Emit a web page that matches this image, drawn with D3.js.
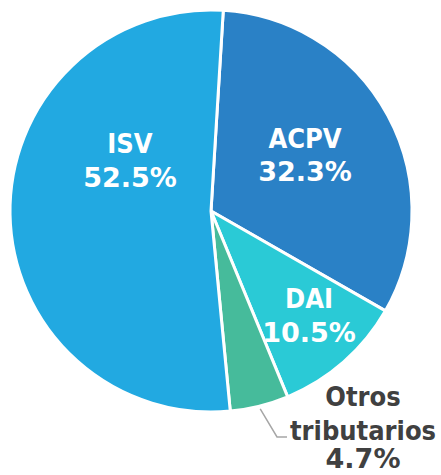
<!DOCTYPE html>
<html>
<head>
<meta charset="utf-8">
<script src="https://cdn.jsdelivr.net/npm/d3@7"></script>
<style>
  html, body { margin: 0; padding: 0; background: #fff; }
</style>
</head>
<body>
<div id="chart"></div>
<script>
// datos (sentido horario desde arriba)
const categories = ["ACPV", "DAI", "Otros tributarios", "ISV"];
const shares = [32.3, 10.5, 4.7, 52.5];
const shareLabels = ["32.3%", "10.5%", "4.7%", "52.5%"];
const nameLines = [["ACPV"], ["DAI"], ["Otros", "tributarios"], ["ISV"]];
const colors = ["#2A81C6", "#2ACAD6", "#46BB9B", "#22A9E1"];

const width = 441, height = 475;
const cx = 211, cy = 211, radius = 201;

// posición de las etiquetas relativa al centro (líneas base)
const labelAt = {
  "ACPV": { x: 94, ys: [-63, -30], inside: true },
  "DAI": { x: 98, ys: [97, 131], inside: true },
  "ISV": { x: -81, ys: [-58, -24], inside: true },
  "Otros tributarios": { x: 152, ys: [195, 229, 257], inside: false }
};

const svg = d3.select("#chart")
  .append("svg")
  .attr("width", width)
  .attr("height", height)
  .append("g")
  .attr("transform", `translate(${cx}, ${cy})`);

const offset = 3.5 * Math.PI / 180;
const pie = d3.pie()
  .sort(null)
  .value(d => d.value)
  .startAngle(offset)
  .endAngle(offset + 2 * Math.PI);

const data = categories.map((c, i) => ({
  name: c, value: shares[i], label: shareLabels[i], lines: nameLines[i], color: colors[i]
}));

const arc = d3.arc().innerRadius(0).outerRadius(radius);

const arcs = pie(data);

svg.selectAll(".slice")
  .data(arcs)
  .enter()
  .append("path")
  .attr("class", "slice")
  .attr("d", arc)
  .attr("fill", d => d.data.color)
  .attr("stroke", "#fff")
  .attr("stroke-width", 3)
  .attr("stroke-linejoin", "round");

// línea guía para "Otros tributarios"
arcs.filter(d => !labelAt[d.data.name].inside).forEach(d => {
  const mid = (d.startAngle + d.endAngle) / 2;
  const p0 = [Math.sin(mid) * (radius + 3), -Math.cos(mid) * (radius + 3)];
  const p1 = [66, 226];
  const p2 = [76, 226];
  svg.append("path")
    .attr("d", d3.line()([p0, p1, p2]))
    .attr("fill", "none")
    .attr("stroke", "#A6A6A6")
    .attr("stroke-width", 1.5);
});

// etiquetas
arcs.forEach(d => {
  const pos = labelAt[d.data.name];
  const t = svg.append("text")
    .attr("text-anchor", "middle")
    .attr("font-weight", "bold")
    .attr("font-size", 27)
    .attr("fill", pos.inside ? "#fff" : "#404040");
  const lines = d.data.lines.concat([d.data.label]);
  lines.forEach((line, i) => {
    t.append("tspan")
      .attr("x", pos.x)
      .attr("y", pos.ys[i])
      .attr("font-family", i === lines.length - 1
        ? "'DejaVu Sans', Verdana, sans-serif"
        : "'DejaVu Sans Condensed', 'DejaVu Sans', sans-serif")
      .text(line);
  });
});
</script>
</body>
</html>
